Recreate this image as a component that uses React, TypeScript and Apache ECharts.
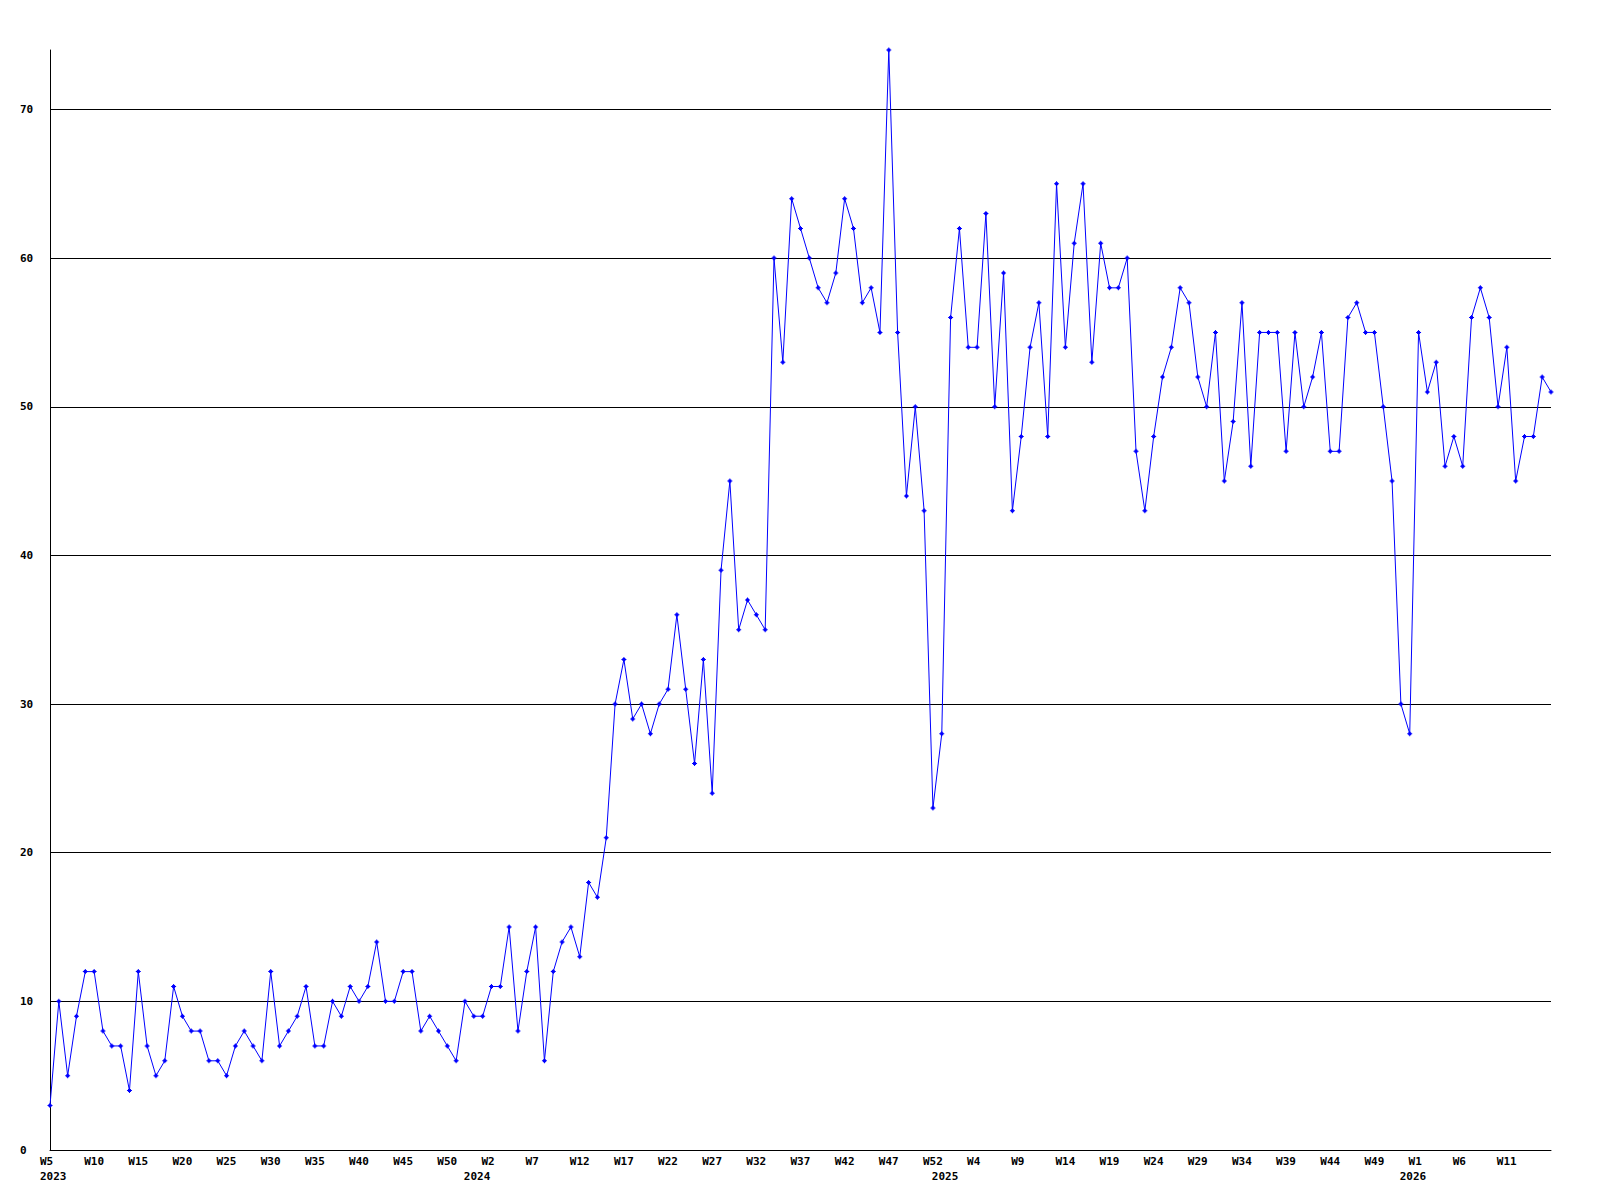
import React, { useEffect, useRef } from "react";
import * as echarts from "echarts";

// Weekly values, one array per year (the first week of each later year is the "W0" partial week)
const weeks2023: string[] = [];
for (let w = 5; w <= 52; w++) weeks2023.push("W" + w);
const weeks2024: string[] = [];
for (let w = 0; w <= 52; w++) weeks2024.push("W" + w);
const weeks2025: string[] = [];
for (let w = 0; w <= 52; w++) weeks2025.push("W" + w);
const weeks2026: string[] = [];
for (let w = 0; w <= 16; w++) weeks2026.push("W" + w);

const values2023 = [
  3, 10, 5, 9, 12, 12, 8, 7, 7, 4,
  12, 7, 5, 6, 11, 9, 8, 8, 6, 6,
  5, 7, 8, 7, 6, 12, 7, 8, 9, 11,
  7, 7, 10, 9, 11, 10, 11, 14, 10, 10,
  12, 12, 8, 9, 8, 7, 6, 10,
];
const values2024 = [
  9, 9, 11, 11, 15, 8, 12, 15, 6, 12,
  14, 15, 13, 18, 17, 21, 30, 33, 29, 30,
  28, 30, 31, 36, 31, 26, 33, 24, 39, 45,
  35, 37, 36, 35, 60, 53, 64, 62, 60, 58,
  57, 59, 64, 62, 57, 58, 55, 74, 55, 44,
  50, 43, 23,
];
const values2025 = [
  28, 56, 62, 54, 54, 63, 50, 59, 43, 48,
  54, 57, 48, 65, 54, 61, 65, 53, 61, 58,
  58, 60, 47, 43, 48, 52, 54, 58, 57, 52,
  50, 55, 45, 49, 57, 46, 55, 55, 55, 47,
  55, 50, 52, 55, 47, 47, 56, 57, 55, 55,
  50, 45, 30,
];
const values2026 = [28, 55, 51, 53, 46, 48, 46, 56, 58, 56, 50, 54, 45, 48, 48, 52, 51];

const yearLabels = ["2023", "2024", "2025", "2026"];
const yTicks = [0, 10, 20, 30, 40, 50, 60, 70];
const yMax = 74;

const categories = [...weeks2023, ...weeks2024, ...weeks2025, ...weeks2026];
const values = [...values2023, ...values2024, ...values2025, ...values2026];
const yearStarts = [
  0,
  weeks2023.length,
  weeks2023.length + weeks2024.length,
  weeks2023.length + weeks2024.length + weeks2025.length,
];

const FONT = "'DejaVu Sans Mono', 'Liberation Mono', monospace";

export default function App() {
  const ref = useRef<HTMLDivElement>(null);
  useEffect(() => {
    if (!ref.current) return;
    const chart = echarts.init(ref.current, null, { renderer: "svg" });
    const labelRich = {
      a: {
        width: 20,
        align: "left",
        fontFamily: FONT,
        fontSize: 11,
        fontWeight: "bold",
        color: "#000",
      },
    };
    chart.setOption({
      animation: false,
      backgroundColor: "#ffffff",
      grid: { left: 50, right: 49, top: 50, bottom: 50 },
      xAxis: [
        {
          type: "category",
          data: categories,
          boundaryGap: false,
          position: "bottom",
          axisLine: { show: true, lineStyle: { color: "#000", width: 1 } },
          axisTick: { show: false },
          splitLine: { show: false },
          axisLabel: {
            interval: (i: number) => i % 5 === 0 && i < categories.length - 1,
            margin: 6,
            formatter: (v: string) => `{a|${v}}`,
            rich: labelRich,
          },
        },
        {
          type: "category",
          data: categories,
          boundaryGap: false,
          position: "bottom",
          axisLine: { show: false },
          axisTick: { show: false },
          splitLine: { show: false },
          axisLabel: {
            interval: (i: number) => yearStarts.indexOf(i) >= 0,
            margin: 21,
            formatter: (_v: string, i: number) => {
              const k = yearStarts.indexOf(i);
              return k >= 0 ? `{a|${yearLabels[k]}}` : "";
            },
            rich: labelRich,
          },
        },
      ],
      yAxis: {
        type: "value",
        min: 0,
        max: yMax,
        interval: 10,
        axisLine: { show: true, lineStyle: { color: "#000", width: 1 } },
        axisTick: { show: false },
        splitLine: {
          show: true,
          lineStyle: {
            color: [...yTicks.map(() => "#000000"), "rgba(0,0,0,0)"],
            width: 1,
            type: "solid",
          },
        },
        axisLabel: {
          align: "left",
          margin: 30,
          fontFamily: FONT,
          fontSize: 11,
          fontWeight: "bold",
          color: "#000",
          formatter: (v: number) => (yTicks.indexOf(v) >= 0 ? String(v) : ""),
        },
      },
      series: [
        {
          type: "line",
          data: values,
          xAxisIndex: 0,
          yAxisIndex: 0,
          symbol: "path://M2,0H3V1H4V2H5V3H4V4H3V5H2V4H1V3H0V2H1V1H2Z",
          symbolSize: 5,
          showAllSymbol: true,
          itemStyle: { color: "#0000ff" },
          lineStyle: { color: "#0000ff", width: 1 },
          emphasis: { disabled: true },
        },
      ],
    });
    return () => chart.dispose();
  }, []);
  return (
    <div
      ref={ref}
      style={{ position: "fixed", left: 0, top: 0, width: 1600, height: 1200, background: "#fff" }}
    />
  );
}
